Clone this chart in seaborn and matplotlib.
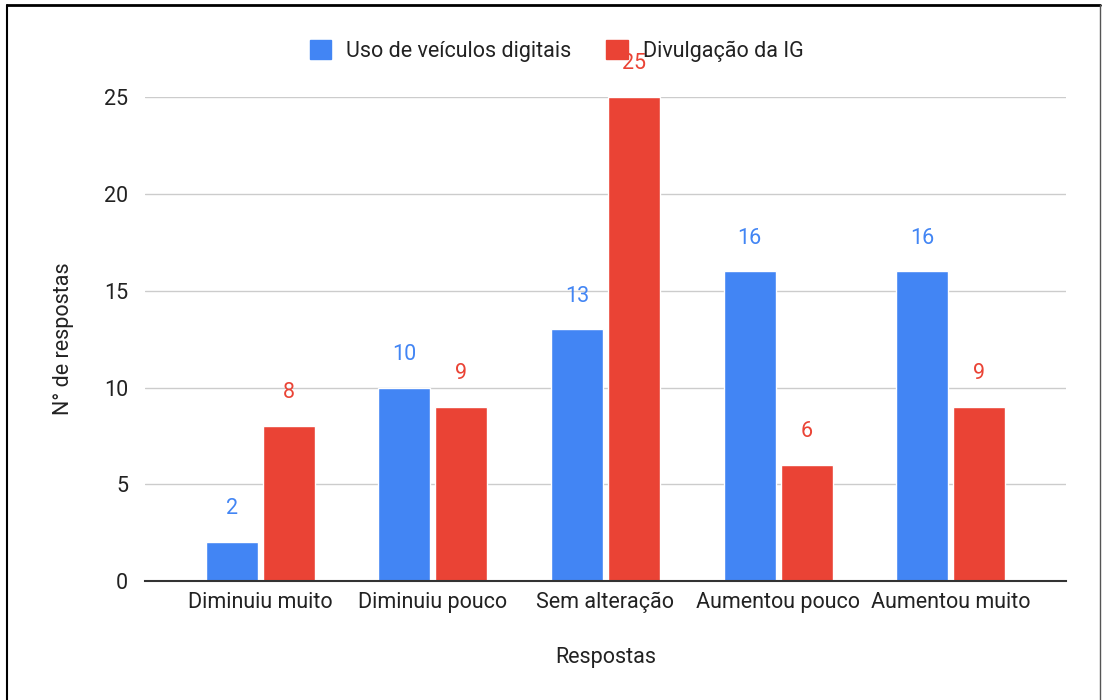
import numpy as np
import pandas as pd
import matplotlib.pyplot as plt
import seaborn as sns
from matplotlib.lines import Line2D

categorias = ['Diminuiu muito', 'Diminuiu pouco', 'Sem alteração', 'Aumentou pouco', 'Aumentou muito']
series = ['Uso de veículos digitais', 'Divulgação da IG']
uso_digital = [2, 10, 13, 16, 16]
divulgacao_ig = [8, 9, 25, 6, 9]
cores = ['#4285F4', '#EA4335']

df = pd.DataFrame({
    'Respostas': categorias * 2,
    'valor': uso_digital + divulgacao_ig,
    'serie': [series[0]] * len(categorias) + [series[1]] * len(categorias),
})

sns.set_style('white')
plt.rcParams['font.family'] = ['Roboto', 'DejaVu Sans']
FS = 15.5

fig = plt.figure(figsize=(11.02, 7), dpi=100)
ax = fig.add_axes([0.1316, 0.17, 0.8357, 0.691])

sns.barplot(data=df, x='Respostas', y='valor', hue='serie', palette=cores,
            width=0.66, gap=0.09, saturation=1, ax=ax, legend=False)

ax.set_ylim(0, 25)
ax.set_xlim(-0.667, 4.667)
ax.set_yticks([0, 5, 10, 15, 20, 25])
ax.yaxis.grid(True, color='#cccccc', linewidth=1)
ax.set_axisbelow(True)
for s in ['top', 'right', 'left']:
    ax.spines[s].set_visible(False)
ax.spines['bottom'].set_color('#333333')
ax.spines['bottom'].set_linewidth(1.5)
ax.tick_params(axis='both', length=0, labelsize=FS, colors='#222222', pad=8)
ax.tick_params(axis='y', pad=12)

for cont, cor in zip(ax.containers, cores):
    for bar in cont:
        h = bar.get_height()
        ax.annotate(f'{int(h)}', (bar.get_x() + bar.get_width() / 2, h),
                    xytext=(0, 24), textcoords='offset points', ha='center', va='center',
                    fontsize=FS, color=cor, annotation_clip=False)

ax.set_xlabel('Respostas', fontsize=FS, color='#222222', labelpad=24)
ax.set_ylabel('N° de respostas', fontsize=FS, color='#222222', labelpad=22)

handles = [plt.Rectangle((0, 0), 1, 1, color=c) for c in cores]
fig.legend(handles, series, loc='center', bbox_to_anchor=(0.505, 0.927), ncol=2,
           frameon=False, fontsize=FS, handlelength=1.0, handleheight=1.0,
           columnspacing=1.6, handletextpad=0.7, labelcolor='#222222')

# moldura da figura
fig.add_artist(Line2D([0.006, 0.006], [0, 0.993], transform=fig.transFigure, color='black', lw=1.5))
fig.add_artist(Line2D([0.006, 0.998], [0.993, 0.993], transform=fig.transFigure, color='black', lw=2))
fig.add_artist(Line2D([0.998, 0.998], [0, 0.993], transform=fig.transFigure, color='#555555', lw=1))

fig.savefig('out.png', dpi=100)
